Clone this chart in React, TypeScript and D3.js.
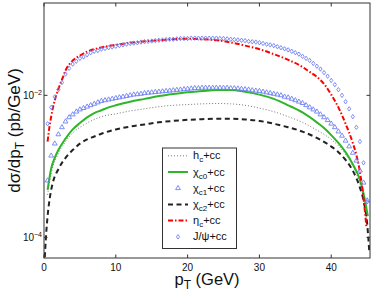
import React, { useEffect, useRef } from 'react';
import * as d3 from 'd3';

// pT grid for the marker series (GeV)
const markerPt = d3.range(0.5, 45.01, 0.5);

// log10 of dσ/dpT (pb/GeV)
const jpsiLog = [
  -2.40, -2.17, -2.02, -1.92, -1.82, -1.70, -1.62, -1.56, -1.52, -1.48,
  -1.46, -1.43, -1.40, -1.38, -1.37, -1.35, -1.34, -1.33, -1.32, -1.31,
  -1.30, -1.29, -1.28, -1.27, -1.265, -1.26, -1.25, -1.245, -1.24, -1.235,
  -1.23, -1.225, -1.22, -1.215, -1.21, -1.21, -1.205, -1.20, -1.20, -1.20,
  -1.195, -1.195, -1.195, -1.195, -1.195, -1.195, -1.195, -1.195, -1.20, -1.20,
  -1.205, -1.21, -1.215, -1.22, -1.225, -1.23, -1.24, -1.245, -1.25, -1.26,
  -1.27, -1.28, -1.29, -1.30, -1.315, -1.33, -1.345, -1.36, -1.38, -1.40,
  -1.42, -1.45, -1.48, -1.51, -1.55, -1.59, -1.63, -1.68, -1.73, -1.79,
  -1.85, -1.92, -2.00, -2.09, -2.19, -2.30, -2.45, -2.65, -2.95, -3.50,
];

const chic1Log = [
  -3.20, -2.85, -2.68, -2.55, -2.45, -2.37, -2.31, -2.27, -2.23, -2.20,
  -2.18, -2.16, -2.14, -2.12, -2.10, -2.08, -2.07, -2.06, -2.05, -2.04,
  -2.03, -2.02, -2.01, -2.00, -1.99, -1.985, -1.98, -1.97, -1.965, -1.96,
  -1.955, -1.95, -1.945, -1.94, -1.935, -1.93, -1.925, -1.92, -1.915, -1.91,
  -1.905, -1.90, -1.90, -1.895, -1.895, -1.895, -1.895, -1.895, -1.895, -1.895,
  -1.895, -1.90, -1.90, -1.905, -1.91, -1.915, -1.92, -1.93, -1.935, -1.94,
  -1.95, -1.96, -1.97, -1.98, -1.99, -2.00, -2.02, -2.03, -2.05, -2.07,
  -2.09, -2.11, -2.14, -2.17, -2.20, -2.23, -2.27, -2.31, -2.35, -2.40,
  -2.45, -2.51, -2.57, -2.64, -2.72, -2.81, -2.92, -3.06, -3.23, -3.48,
];

const chic0Pt = [0.5, 1, 1.5, 2, 3, 4, 5, 6, 7, 8, 9, 10, 12, 14, 16, 18, 20, 22, 24, 26, 28, 30, 32, 34, 36, 38, 39, 40, 41, 42, 43, 44, 44.5, 45.1];
const chic0Log = [-3.33, -3.03, -2.88, -2.77, -2.61, -2.48, -2.39, -2.31, -2.25, -2.21, -2.17, -2.14, -2.09, -2.05, -2.01, -1.98, -1.955, -1.94, -1.925, -1.925, -1.95, -1.99, -2.05, -2.14, -2.24, -2.38, -2.46, -2.56, -2.67, -2.80, -2.97, -3.19, -3.38, -3.70];

const hcPt = [0.5, 1, 2, 3, 4, 5, 6, 7, 8, 10, 12, 14, 16, 18, 20, 22, 24, 26, 28, 30, 32, 34, 36, 38, 40, 41, 42, 43, 44, 44.5, 45];
const hcLog = [-3.40, -3.10, -2.82, -2.65, -2.53, -2.45, -2.39, -2.34, -2.30, -2.26, -2.22, -2.19, -2.16, -2.14, -2.13, -2.12, -2.115, -2.12, -2.14, -2.18, -2.23, -2.30, -2.38, -2.49, -2.62, -2.71, -2.83, -2.99, -3.25, -3.45, -3.80];

const chic2Pt = [0.05, 0.3, 0.5, 0.8, 1.2, 2, 3, 4, 5, 6, 7, 8, 10, 12, 14, 16, 18, 20, 22, 24, 26, 28, 30, 32, 34, 36, 38, 40, 41, 42, 43, 44, 44.5, 45, 45.3];
const chic2Log = [-4.4, -3.95, -3.70, -3.45, -3.24, -3.04, -2.88, -2.77, -2.68, -2.62, -2.58, -2.54, -2.48, -2.44, -2.41, -2.38, -2.36, -2.345, -2.335, -2.33, -2.33, -2.34, -2.36, -2.40, -2.45, -2.51, -2.60, -2.72, -2.80, -2.91, -3.06, -3.30, -3.48, -3.80, -4.2];

const etacPt = [0.5, 0.75, 1, 1.25, 1.5, 2, 2.5, 3, 4, 5, 6, 7, 8, 9, 10, 12, 14, 16, 18, 20, 22, 24, 26, 28, 30, 32, 34, 36, 37, 38, 39, 40, 41, 42, 43, 43.5, 44, 44.5, 44.9];
const etacLog = [-2.65, -2.45, -2.30, -2.17, -2.07, -1.91, -1.78, -1.65, -1.51, -1.44, -1.385, -1.35, -1.325, -1.305, -1.29, -1.26, -1.24, -1.225, -1.21, -1.205, -1.21, -1.225, -1.255, -1.30, -1.35, -1.42, -1.50, -1.60, -1.67, -1.74, -1.84, -1.99, -2.17, -2.40, -2.67, -2.84, -3.08, -3.45, -3.85];

const xTicks = [0, 10, 20, 30, 40];
const yTicks = [-2, -4];

const GREEN = '#2fb52a';
const BLUE = '#6f80f5';
const font = '"Liberation Sans", Arial, Helvetica, sans-serif';

export default function App() {
  const ref = useRef<SVGSVGElement>(null);

  useEffect(() => {
    const svg = d3.select(ref.current);
    svg.selectAll('*').remove();

    const W = 374, H = 294;
    const margin = { top: 3, right: 4, bottom: 36, left: 44 };
    const x = d3.scaleLinear().domain([0, 45.4]).range([margin.left, W - margin.right]);
    const y = d3.scaleLog().domain([Math.pow(10, -4.29), Math.pow(10, -0.7)]).range([H - margin.bottom, margin.top]);
    const ly = (v: number) => y(Math.pow(10, v));

    svg.append('rect').attr('width', W).attr('height', H).attr('fill', '#fff');

    svg.append('clipPath').attr('id', 'plotclip').append('rect')
      .attr('x', margin.left).attr('y', margin.top)
      .attr('width', W - margin.left - margin.right).attr('height', H - margin.top - margin.bottom);

    const plot = svg.append('g').attr('clip-path', 'url(#plotclip)');

    const line = d3.line<[number, number]>()
      .x((d) => x(d[0]))
      .y((d) => ly(d[1]))
      .curve(d3.curveMonotoneX);

    const zip = (a: number[], b: number[]) => a.map((v, i) => [v, b[i]] as [number, number]);

    // h_c dotted
    plot.append('path').attr('d', line(zip(hcPt, hcLog)))
      .attr('fill', 'none').attr('stroke', '#777').attr('stroke-width', 1).attr('stroke-dasharray', '1,2');
    // chi_c2 dashed
    plot.append('path').attr('d', line(zip(chic2Pt, chic2Log)))
      .attr('fill', 'none').attr('stroke', '#222').attr('stroke-width', 2).attr('stroke-dasharray', '5,3.5');
    // chi_c0 solid green
    plot.append('path').attr('d', line(zip(chic0Pt, chic0Log)))
      .attr('fill', 'none').attr('stroke', GREEN).attr('stroke-width', 2);
    // eta_c dash-dot
    plot.append('path').attr('d', line(zip(etacPt, etacLog)))
      .attr('fill', 'none').attr('stroke', '#f00').attr('stroke-width', 2).attr('stroke-dasharray', '5,2,1.5,2');

    const tri = d3.symbol().type(d3.symbolTriangle).size(10);
    const dia = 'M0,-2.2L1.6,0L0,2.2L-1.6,0Z';

    plot.selectAll('.c1').data(zip(markerPt, chic1Log)).enter().append('path')
      .attr('d', tri()).attr('transform', (d) => `translate(${x(d[0])},${ly(d[1])})`)
      .attr('fill', 'none').attr('stroke', BLUE).attr('stroke-width', 0.9);

    plot.selectAll('.jp').data(zip(markerPt, jpsiLog)).enter().append('path')
      .attr('d', dia).attr('transform', (d) => `translate(${x(d[0])},${ly(d[1])})`)
      .attr('fill', 'none').attr('stroke', BLUE).attr('stroke-width', 0.9);

    // box
    const x0 = margin.left, x1 = W - margin.right, y0 = margin.top, y1 = H - margin.bottom;
    svg.append('rect').attr('x', x0).attr('y', y0).attr('width', x1 - x0).attr('height', y1 - y0)
      .attr('fill', 'none').attr('stroke', '#333').attr('stroke-width', 1);

    // ticks
    const tk = svg.append('g').attr('stroke', '#333').attr('stroke-width', 1);
    xTicks.forEach((t) => {
      tk.append('line').attr('x1', x(t)).attr('x2', x(t)).attr('y1', y1).attr('y2', y1 - 3.5);
      tk.append('line').attr('x1', x(t)).attr('x2', x(t)).attr('y1', y0).attr('y2', y0 + 3.5);
    });
    yTicks.forEach((t) => {
      tk.append('line').attr('x1', x0).attr('x2', x0 + 3.5).attr('y1', ly(t)).attr('y2', ly(t));
      tk.append('line').attr('x1', x1).attr('x2', x1 - 3.5).attr('y1', ly(t)).attr('y2', ly(t));
    });

    const lab = svg.append('g').attr('font-family', font).attr('fill', '#111');
    xTicks.forEach((t) => {
      lab.append('text').attr('x', x(t)).attr('y', y1 + 13).attr('text-anchor', 'middle')
        .attr('font-size', 10).text(String(t));
    });
    yTicks.forEach((t) => {
      const tx = lab.append('text').attr('x', x0 - 2).attr('y', ly(t) + 3.5).attr('text-anchor', 'end').attr('font-size', 10);
      tx.append('tspan').text('10');
      tx.append('tspan').attr('dy', -4).attr('font-size', 7).text(`\u2212${-t}`);
    });

    // axis titles
    const xt = lab.append('text').attr('x', (x0 + x1) / 2).attr('y', 285).attr('text-anchor', 'middle').attr('font-size', 16.5);
    xt.append('tspan').text('p');
    xt.append('tspan').attr('dy', 4).attr('font-size', 12).text('T');
    xt.append('tspan').attr('dy', -4).text(' (GeV)');

    const yt = lab.append('text').attr('transform', `translate(20,${(y0 + y1) / 2}) rotate(-90)`)
      .attr('text-anchor', 'middle').attr('font-size', 17);
    yt.append('tspan').text('d\u03c3/dp');
    yt.append('tspan').attr('dy', 4).attr('font-size', 12).text('T');
    yt.append('tspan').attr('dy', -4).text(' (pb/GeV)');

    // legend
    const lg = svg.append('g');
    lg.append('rect').attr('x', 162.5).attr('y', 148).attr('width', 74).attr('height', 100.5)
      .attr('fill', '#fff').attr('stroke', '#333').attr('stroke-width', 1);
    const entries = [
      { main: 'h', sub: 'c', kind: 'dot' },
      { main: '\u03c7', sub: 'c0', kind: 'green' },
      { main: '\u03c7', sub: 'c1', kind: 'tri' },
      { main: '\u03c7', sub: 'c2', kind: 'dash' },
      { main: '\u03b7', sub: 'c', kind: 'dashdot' },
      { main: 'J/\u03c8', sub: '', kind: 'dia' },
    ];
    entries.forEach((e, i) => {
      const cy = 155.8 + i * 16.2;
      const l = lg.append('line').attr('x1', 168).attr('x2', 188).attr('y1', cy).attr('y2', cy).attr('fill', 'none');
      if (e.kind === 'dot') l.attr('stroke', '#777').attr('stroke-width', 1).attr('stroke-dasharray', '1,2');
      else if (e.kind === 'green') l.attr('stroke', GREEN).attr('stroke-width', 2);
      else if (e.kind === 'dash') l.attr('stroke', '#222').attr('stroke-width', 2).attr('stroke-dasharray', '5,3.5');
      else if (e.kind === 'dashdot') l.attr('stroke', '#f00').attr('stroke-width', 2).attr('stroke-dasharray', '5,2,1.5,2');
      else l.remove();
      if (e.kind === 'tri') lg.append('path').attr('d', tri()).attr('transform', `translate(178,${cy})`)
        .attr('fill', 'none').attr('stroke', BLUE).attr('stroke-width', 0.9);
      if (e.kind === 'dia') lg.append('path').attr('d', dia).attr('transform', `translate(178,${cy})`)
        .attr('fill', 'none').attr('stroke', BLUE).attr('stroke-width', 0.9);
      const t = lg.append('text').attr('x', 193).attr('y', cy + 3.5).attr('font-family', font)
        .attr('font-size', 11).attr('fill', '#111');
      t.append('tspan').text(e.main);
      if (e.sub) {
        t.append('tspan').attr('dy', 3).attr('font-size', 8).text(e.sub);
        t.append('tspan').attr('dy', -3).text('+cc');
      } else {
        t.append('tspan').text('+cc');
      }
    });
  }, []);

  return (
    <svg ref={ref} width={374} height={294}
      style={{ position: 'absolute', left: 0, top: 0, display: 'block' }} />
  );
}
